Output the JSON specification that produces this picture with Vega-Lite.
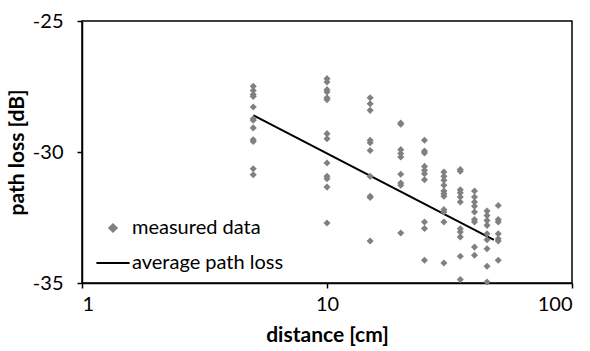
{
  "$schema": "https://vega.github.io/schema/vega-lite/v6.json",
  "width": 490,
  "height": 262,
  "autosize": {"type": "none"},
  "padding": {"left": 82, "top": 21, "right": 18, "bottom": 68},
  "background": "white",
  "config": {
    "font": "Lato",
    "view": {"stroke": "#000000", "strokeWidth": 1.5},
    "axis": {
      "grid": false,
      "domainColor": "#000000",
      "domainWidth": 1.5,
      "tickColor": "#000000",
      "tickWidth": 1.5,
      "tickSize": 5,
      "labelFont": "Lato",
      "labelFontSize": 20,
      "labelColor": "#000000",
      "titleFont": "Lato",
      "titleFontSize": 21,
      "titleFontWeight": "bold",
      "titleColor": "#000000"
    },
    "legend": {
      "labelFont": "Lato",
      "labelFontSize": 20,
      "labelColor": "#000000",
      "orient": "none",
      "legendX": 21,
      "legendY": 197,
      "title": null,
      "symbolSize": 1000,
      "rowPadding": 15,
      "labelOffset": 9
    }
  },
  "datasets": {
    "measured": [
      {"d": 5, "pl": -27.49}, {"d": 5, "pl": -27.65}, {"d": 5, "pl": -27.81}, {"d": 5, "pl": -27.88},
      {"d": 5, "pl": -28.28}, {"d": 5, "pl": -28.73}, {"d": 5, "pl": -28.79}, {"d": 5, "pl": -29.08},
      {"d": 5, "pl": -29.53}, {"d": 5, "pl": -29.6}, {"d": 5, "pl": -30.64}, {"d": 5, "pl": -30.87},
      {"d": 10, "pl": -27.2}, {"d": 10, "pl": -27.33}, {"d": 10, "pl": -27.62}, {"d": 10, "pl": -27.71},
      {"d": 10, "pl": -27.93}, {"d": 10, "pl": -28.0}, {"d": 10, "pl": -29.3}, {"d": 10, "pl": -29.49},
      {"d": 10, "pl": -30.42}, {"d": 10, "pl": -30.93}, {"d": 10, "pl": -31.02}, {"d": 10, "pl": -31.34},
      {"d": 10, "pl": -32.71},
      {"d": 15, "pl": -27.93}, {"d": 15, "pl": -28.16}, {"d": 15, "pl": -28.41}, {"d": 15, "pl": -29.55},
      {"d": 15, "pl": -29.65}, {"d": 15, "pl": -29.94}, {"d": 15, "pl": -30.93}, {"d": 15, "pl": -31.69},
      {"d": 15, "pl": -31.74}, {"d": 15, "pl": -33.4},
      {"d": 20, "pl": -28.89}, {"d": 20, "pl": -28.94}, {"d": 20, "pl": -29.91}, {"d": 20, "pl": -30.06},
      {"d": 20, "pl": -30.19}, {"d": 20, "pl": -30.85}, {"d": 20, "pl": -31.18}, {"d": 20, "pl": -31.27},
      {"d": 20, "pl": -33.09},
      {"d": 25, "pl": -29.55}, {"d": 25, "pl": -29.96}, {"d": 25, "pl": -30.04}, {"d": 25, "pl": -30.55},
      {"d": 25, "pl": -30.7}, {"d": 25, "pl": -30.83}, {"d": 25, "pl": -31.06}, {"d": 25, "pl": -32.67},
      {"d": 25, "pl": -32.92}, {"d": 25, "pl": -34.13},
      {"d": 30, "pl": -30.76}, {"d": 30, "pl": -30.93}, {"d": 30, "pl": -31.08}, {"d": 30, "pl": -31.27},
      {"d": 30, "pl": -31.49}, {"d": 30, "pl": -31.59}, {"d": 30, "pl": -31.69}, {"d": 30, "pl": -32.2},
      {"d": 30, "pl": -32.29}, {"d": 30, "pl": -32.67}, {"d": 30, "pl": -34.24},
      {"d": 35, "pl": -30.67}, {"d": 35, "pl": -30.73}, {"d": 35, "pl": -31.44}, {"d": 35, "pl": -31.56},
      {"d": 35, "pl": -31.72}, {"d": 35, "pl": -31.91}, {"d": 35, "pl": -32.93}, {"d": 35, "pl": -33.05},
      {"d": 35, "pl": -33.24}, {"d": 35, "pl": -33.98}, {"d": 35, "pl": -34.87},
      {"d": 40, "pl": -31.49}, {"d": 40, "pl": -31.72}, {"d": 40, "pl": -31.91}, {"d": 40, "pl": -32.07},
      {"d": 40, "pl": -32.29}, {"d": 40, "pl": -32.58}, {"d": 40, "pl": -32.67}, {"d": 40, "pl": -33.63},
      {"d": 40, "pl": -33.94},
      {"d": 45, "pl": -32.25}, {"d": 45, "pl": -32.42}, {"d": 45, "pl": -32.61}, {"d": 45, "pl": -32.8},
      {"d": 45, "pl": -33.12}, {"d": 45, "pl": -33.35}, {"d": 45, "pl": -33.69}, {"d": 45, "pl": -34.36},
      {"d": 45, "pl": -34.96},
      {"d": 50, "pl": -32.04}, {"d": 50, "pl": -32.58}, {"d": 50, "pl": -32.67}, {"d": 50, "pl": -33.12},
      {"d": 50, "pl": -33.31}, {"d": 50, "pl": -33.4}, {"d": 50, "pl": -34.13}
    ],
    "avg": [
      {"d": 5, "pl": -28.6},
      {"d": 48, "pl": -33.35}
    ]
  },
  "layer": [
    {
      "data": {"name": "avg"},
      "transform": [{"calculate": "'average path loss'", "as": "series"}],
      "mark": {"type": "line", "strokeWidth": 2},
      "encoding": {
        "x": {
          "field": "d", "type": "quantitative",
          "scale": {"type": "log", "domain": [1, 100]},
          "axis": {"values": [1, 10, 100], "labelExpr": "toString(datum.value)", "title": "distance [cm]", "labelPadding": 6, "titlePadding": 10}
        },
        "y": {
          "field": "pl", "type": "quantitative",
          "scale": {"domain": [-35, -25]},
          "axis": {"values": [-35, -30, -25], "labelExpr": "toString(datum.value)", "title": "path loss [dB]", "labelPadding": 14, "titlePadding": 5}
        },
        "color": {
          "field": "series", "type": "nominal",
          "scale": {"domain": ["measured data", "average path loss"], "range": ["#808080", "#000000"]},
          "legend": {
            "encode": {
              "symbols": {
                "update": {
                  "size": {"signal": "datum.value === 'average path loss' ? 1100 : 55"},
                  "stroke": {"signal": "datum.value === 'average path loss' ? '#000000' : '#808080'"},
                  "strokeWidth": {"value": 2},
                  "fill": {"signal": "datum.value === 'average path loss' ? 'transparent' : '#808080'"},
                  "opacity": {"value": 1}
                }
              }
            }
          }
        }
      }
    },
    {
      "data": {"name": "measured"},
      "transform": [{"calculate": "'measured data'", "as": "series"}],
      "mark": {"type": "point", "filled": true, "opacity": 1, "size": 50},
      "encoding": {
        "x": {"field": "d", "type": "quantitative"},
        "y": {"field": "pl", "type": "quantitative"},
        "color": {"field": "series", "type": "nominal"},
        "shape": {
          "field": "series", "type": "nominal",
          "scale": {"domain": ["measured data", "average path loss"], "range": ["diamond", "stroke"]}
        }
      }
    }
  ]
}
